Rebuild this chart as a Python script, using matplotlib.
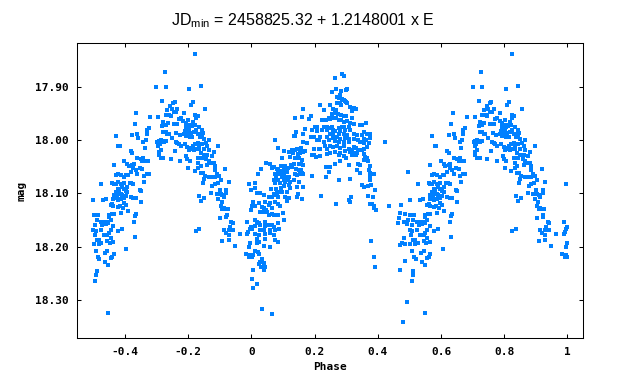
import numpy as np
import matplotlib
matplotlib.use('Agg')
import matplotlib.pyplot as plt

# phase-folded light curve, phase 0..1 (points with phase >= 0.5 are repeated at phase - 1)
# rising branch after primary minimum
rise_pts = [
    (0.162, 17.941), (0.139, 17.959), (0.160, 17.956), (0.188, 17.955), (0.184, 17.961), (0.202, 17.976),
    (0.208, 17.976), (0.170, 17.979), (0.192, 17.980), (0.208, 17.983), (0.142, 17.984), (0.134, 17.992),
    (0.139, 17.992), (0.165, 17.989), (0.189, 17.994), (0.199, 17.994), (0.208, 18.000), (0.213, 18.000),
    (0.177, 18.005), (0.162, 18.003), (0.076, 17.999), (0.086, 18.014), (0.129, 18.018), (0.139, 18.018),
    (0.144, 18.016), (0.150, 18.016), (0.156, 18.014), (0.215, 18.017), (0.197, 18.016), (0.104, 18.020),
    (0.118, 18.022), (0.131, 18.025), (0.148, 18.026), (0.155, 18.025), (0.165, 18.022), (0.171, 18.021),
    (0.192, 18.028), (0.198, 18.028), (0.206, 18.031), (0.097, 18.034), (0.123, 18.031), (0.139, 18.034),
    (0.150, 18.033), (0.160, 18.038), (0.046, 18.043), (0.060, 18.044), (0.071, 18.050), (0.095, 18.049),
    (0.108, 18.049), (0.126, 18.047), (0.134, 18.044), (0.150, 18.045), (0.158, 18.044), (0.162, 18.047),
    (0.032, 18.055), (0.065, 18.053), (0.081, 18.055), (0.086, 18.056), (0.097, 18.058), (0.105, 18.056),
    (0.116, 18.053), (0.129, 18.051), (0.141, 18.054), (0.150, 18.056), (0.156, 18.056), (0.160, 18.061),
    (0.021, 18.064), (0.074, 18.063), (0.084, 18.061), (0.092, 18.064), (0.102, 18.061), (0.113, 18.059),
    (0.137, 18.063), (0.144, 18.066), (0.155, 18.064), (0.162, 18.064), (0.192, 18.068), (0.078, 18.070),
    (0.097, 18.069), (0.108, 18.070), (0.118, 18.069), (0.071, 18.075), (0.086, 18.075), (0.102, 18.074),
    (0.116, 18.075), (0.134, 18.074), (0.013, 18.080), (0.076, 18.081), (0.092, 18.080), (0.108, 18.078),
    (0.123, 18.078), (0.150, 18.078), (0.162, 18.088), (0.000, 18.094), (0.011, 18.089), (0.063, 18.091),
    (0.078, 18.091), (0.095, 18.089), (0.105, 18.086), (0.118, 18.084), (0.123, 18.089), (0.144, 18.088),
    (0.019, 18.099), (0.028, 18.100), (0.039, 18.103), (0.055, 18.106), (0.071, 18.101), (0.081, 18.100),
    (0.092, 18.098), (0.097, 18.097), (0.113, 18.097), (0.147, 18.101), (0.065, 18.106), (0.076, 18.103),
    (0.086, 18.106), (0.108, 18.106), (0.118, 18.108), (0.144, 18.106), (0.160, 18.111), (0.007, 18.116),
    (0.023, 18.118), (0.044, 18.116), (0.060, 18.118), (0.074, 18.116), (0.086, 18.120), (0.092, 18.123),
    (0.055, 18.122), (0.113, 18.115), (0.002, 18.124), (0.013, 18.124), (0.034, 18.125), (0.039, 18.128),
    (0.046, 18.131), (0.065, 18.128), (0.000, 18.131), (0.028, 18.134), (0.039, 18.134), (0.050, 18.134),
    (0.065, 18.138), (0.099, 18.136), (0.055, 18.141), (0.071, 18.141), (0.086, 18.141), (0.011, 18.150),
    (0.018, 18.153), (0.023, 18.155), (0.028, 18.159), (0.042, 18.153), (0.086, 18.156), (0.105, 18.150),
    (0.011, 18.161), (0.044, 18.161), (0.055, 18.159), (0.065, 18.159), (0.071, 18.163), (0.089, 18.166),
    (0.002, 18.166), (0.028, 18.169), (0.039, 18.168), (0.060, 18.168), (0.076, 18.169), (0.013, 18.176),
    (0.023, 18.178), (0.044, 18.177), (0.060, 18.175), (0.071, 18.178), (0.018, 18.186), (0.023, 18.191),
    (0.044, 18.186), (0.076, 18.188), (0.084, 18.191), (0.018, 18.194), (0.039, 18.199), (0.060, 18.201),
    (0.013, 18.209), (0.021, 18.210), (0.025, 18.213), (0.007, 18.216), (0.002, 18.220), (0.034, 18.224),
    (0.028, 18.228), (0.039, 18.230), (0.004, 18.243), (0.023, 18.233), (0.032, 18.238), (0.044, 18.238),
    (0.039, 18.244), (0.002, 18.261), (0.004, 18.278), (0.018, 18.271), (0.033, 18.318), (0.064, 18.327),
]

# first maximum and decline to secondary minimum
max1_pts = [
    (0.264, 17.883), (0.286, 17.875), (0.292, 17.880), (0.269, 17.903), (0.255, 17.909), (0.284, 17.908),
    (0.298, 17.905), (0.303, 17.904), (0.279, 17.916), (0.271, 17.918), (0.276, 17.920), (0.287, 17.922),
    (0.292, 17.925), (0.298, 17.928), (0.303, 17.931), (0.311, 17.938), (0.318, 17.941), (0.324, 17.939),
    (0.330, 17.941), (0.297, 17.926), (0.271, 17.931), (0.279, 17.930), (0.284, 17.934), (0.218, 17.933),
    (0.250, 17.934), (0.260, 17.941), (0.231, 17.944), (0.269, 17.944), (0.318, 17.945), (0.255, 17.950),
    (0.266, 17.949), (0.273, 17.951), (0.284, 17.953), (0.292, 17.955), (0.298, 17.954), (0.260, 17.958),
    (0.269, 17.959), (0.245, 17.958), (0.225, 17.963), (0.237, 17.963), (0.250, 17.961), (0.276, 17.963),
    (0.284, 17.963), (0.292, 17.965), (0.303, 17.964), (0.320, 17.958), (0.324, 17.969), (0.311, 17.968),
    (0.345, 17.971), (0.350, 17.971), (0.364, 17.968), (0.229, 17.975), (0.239, 17.976), (0.248, 17.978),
    (0.255, 17.976), (0.260, 17.980), (0.276, 17.978), (0.287, 17.976), (0.292, 17.975), (0.308, 17.976),
    (0.223, 17.980), (0.241, 17.981), (0.266, 17.983), (0.281, 17.983), (0.297, 17.981), (0.313, 17.981),
    (0.355, 17.984), (0.366, 17.988), (0.250, 17.988), (0.260, 17.989), (0.276, 17.988), (0.292, 17.989),
    (0.303, 17.991), (0.324, 17.988), (0.334, 17.991), (0.350, 17.991), (0.374, 17.989), (0.218, 17.994),
    (0.239, 17.994), (0.258, 17.995), (0.271, 17.994), (0.281, 17.997), (0.297, 17.995), (0.308, 17.997),
    (0.324, 17.997), (0.339, 17.999), (0.355, 17.997), (0.364, 18.000), (0.376, 17.995), (0.229, 18.003),
    (0.245, 18.000), (0.266, 18.001), (0.276, 18.003), (0.292, 18.003), (0.308, 18.003), (0.345, 18.003),
    (0.355, 18.005), (0.371, 18.005), (0.422, 18.004), (0.234, 18.011), (0.250, 18.011), (0.260, 18.013),
    (0.271, 18.010), (0.281, 18.014), (0.292, 18.011), (0.324, 18.013), (0.332, 18.014), (0.218, 18.016),
    (0.239, 18.016), (0.308, 18.016), (0.318, 18.018), (0.339, 18.019), (0.350, 18.019), (0.357, 18.016),
    (0.366, 18.013), (0.250, 18.024), (0.266, 18.022), (0.281, 18.024), (0.297, 18.021), (0.313, 18.022),
    (0.324, 18.024), (0.334, 18.025), (0.355, 18.026), (0.218, 18.030), (0.239, 18.026), (0.276, 18.028),
    (0.292, 18.030), (0.318, 18.028), (0.332, 18.028), (0.360, 18.031), (0.366, 18.034), (0.300, 18.034),
    (0.355, 18.038), (0.368, 18.039), (0.279, 18.039), (0.266, 18.045), (0.308, 18.046), (0.339, 18.045),
    (0.345, 18.047), (0.235, 18.050), (0.248, 18.051), (0.374, 18.049), (0.334, 18.056), (0.345, 18.061),
    (0.371, 18.056), (0.245, 18.059), (0.376, 18.061), (0.387, 18.063), (0.235, 18.070), (0.276, 18.074),
    (0.313, 18.073), (0.376, 18.069), (0.374, 18.075), (0.350, 18.085), (0.357, 18.088), (0.369, 18.086),
    (0.378, 18.084), (0.390, 18.093), (0.221, 18.104), (0.314, 18.106), (0.369, 18.104), (0.384, 18.106),
    (0.308, 18.113), (0.312, 18.116), (0.267, 18.119), (0.374, 18.119), (0.382, 18.120), (0.387, 18.124),
    (0.389, 18.128), (0.394, 18.132), (0.437, 18.123), (0.380, 18.190), (0.387, 18.219), (0.390, 18.238),
]

# secondary minimum and rise
min2_pts = [
    (0.637, 17.948), (0.681, 17.956), (0.632, 17.969), (0.677, 17.977), (0.669, 17.980), (0.640, 17.988),
    (0.670, 17.988), (0.624, 17.991), (0.643, 17.995), (0.667, 17.999), (0.659, 18.003), (0.573, 17.993),
    (0.580, 18.010), (0.584, 18.010), (0.664, 18.014), (0.619, 18.021), (0.624, 18.025), (0.640, 18.034),
    (0.650, 18.036), (0.656, 18.039), (0.659, 18.034), (0.664, 18.040), (0.674, 18.040), (0.599, 18.039),
    (0.608, 18.044), (0.613, 18.049), (0.624, 18.047), (0.629, 18.045), (0.627, 18.053), (0.619, 18.059),
    (0.635, 18.056), (0.647, 18.053), (0.656, 18.055), (0.566, 18.047), (0.497, 18.059), (0.610, 18.066),
    (0.598, 18.069), (0.605, 18.066), (0.577, 18.064), (0.571, 18.065), (0.587, 18.066), (0.640, 18.064),
    (0.671, 18.063), (0.677, 18.064), (0.661, 18.067), (0.526, 18.083), (0.561, 18.080), (0.566, 18.083),
    (0.571, 18.083), (0.579, 18.078), (0.587, 18.083), (0.598, 18.081), (0.608, 18.088), (0.617, 18.081),
    (0.621, 18.080), (0.627, 18.083), (0.662, 18.078), (0.592, 18.088), (0.598, 18.092), (0.603, 18.095),
    (0.608, 18.097), (0.577, 18.091), (0.582, 18.094), (0.571, 18.098), (0.579, 18.101), (0.587, 18.101),
    (0.592, 18.103), (0.603, 18.105), (0.619, 18.106), (0.627, 18.108), (0.635, 18.109), (0.647, 18.093),
    (0.650, 18.095), (0.566, 18.103), (0.564, 18.111), (0.574, 18.109), (0.579, 18.113), (0.587, 18.111),
    (0.598, 18.109), (0.532, 18.113), (0.542, 18.111), (0.501, 18.113), (0.652, 18.116), (0.598, 18.118),
    (0.603, 18.122), (0.585, 18.123), (0.555, 18.122), (0.561, 18.119), (0.564, 18.124), (0.475, 18.121),
    (0.577, 18.125), (0.594, 18.128), (0.610, 18.133), (0.566, 18.138), (0.587, 18.136), (0.558, 18.139),
    (0.550, 18.141), (0.635, 18.138), (0.631, 18.143), (0.469, 18.136), (0.485, 18.138), (0.503, 18.141),
    (0.516, 18.141), (0.466, 18.147), (0.497, 18.150), (0.513, 18.150), (0.524, 18.153), (0.492, 18.153),
    (0.482, 18.153), (0.550, 18.145), (0.555, 18.150), (0.545, 18.153), (0.536, 18.153), (0.463, 18.156),
    (0.491, 18.158), (0.507, 18.159), (0.529, 18.159), (0.540, 18.157), (0.548, 18.156), (0.629, 18.154),
    (0.564, 18.161), (0.592, 18.166), (0.555, 18.168), (0.524, 18.169), (0.509, 18.170), (0.501, 18.169),
    (0.550, 18.174), (0.577, 18.171), (0.545, 18.178), (0.534, 18.178), (0.506, 18.179), (0.633, 18.181),
    (0.555, 18.184), (0.519, 18.188), (0.482, 18.183), (0.545, 18.189), (0.526, 18.193), (0.513, 18.188),
    (0.553, 18.193), (0.564, 18.192), (0.476, 18.194), (0.471, 18.197), (0.487, 18.195), (0.503, 18.195),
    (0.519, 18.195), (0.605, 18.205), (0.508, 18.209), (0.545, 18.209), (0.536, 18.211), (0.566, 18.214),
    (0.561, 18.219), (0.555, 18.222), (0.515, 18.219), (0.520, 18.224), (0.539, 18.228), (0.485, 18.226),
    (0.548, 18.235), (0.469, 18.243), (0.513, 18.246), (0.510, 18.254), (0.507, 18.265), (0.491, 18.304),
    (0.548, 18.325), (0.479, 18.342),
]

# second maximum and decline to primary minimum
max2_pts = [
    (0.823, 17.839), (0.728, 17.871), (0.700, 17.901), (0.731, 17.901), (0.804, 17.903), (0.842, 17.899),
    (0.719, 17.926), (0.759, 17.929), (0.754, 17.931), (0.744, 17.935), (0.808, 17.933), (0.816, 17.928),
    (0.750, 17.941), (0.735, 17.944), (0.766, 17.941), (0.761, 17.947), (0.756, 17.947), (0.855, 17.941),
    (0.788, 17.948), (0.729, 17.952), (0.741, 17.952), (0.747, 17.954), (0.823, 17.952), (0.830, 17.954),
    (0.706, 17.956), (0.772, 17.961), (0.777, 17.958), (0.785, 17.964), (0.794, 17.967), (0.801, 17.963),
    (0.817, 17.966), (0.825, 17.959), (0.722, 17.965), (0.737, 17.967), (0.730, 17.971), (0.756, 17.969),
    (0.766, 17.969), (0.806, 17.971), (0.812, 17.974), (0.821, 17.972), (0.794, 17.975), (0.798, 17.978),
    (0.804, 17.976), (0.834, 17.975), (0.719, 17.974), (0.789, 17.983), (0.802, 17.980), (0.824, 17.980),
    (0.845, 17.981), (0.722, 17.984), (0.729, 17.984), (0.735, 17.988), (0.740, 17.988), (0.763, 17.986),
    (0.787, 17.988), (0.798, 17.988), (0.808, 17.986), (0.819, 17.984), (0.840, 17.988), (0.848, 17.986),
    (0.750, 17.995), (0.775, 17.991), (0.793, 17.992), (0.806, 17.994), (0.814, 17.994), (0.830, 17.989),
    (0.837, 17.994), (0.843, 17.991), (0.851, 17.998), (0.867, 17.999), (0.703, 18.004), (0.708, 18.002),
    (0.714, 18.000), (0.719, 18.002), (0.724, 18.003), (0.729, 18.001), (0.711, 18.008), (0.761, 18.004),
    (0.766, 18.006), (0.772, 18.008), (0.777, 18.010), (0.789, 18.008), (0.798, 18.013), (0.808, 18.014),
    (0.815, 18.011), (0.821, 18.008), (0.830, 18.006), (0.835, 18.009), (0.845, 18.008), (0.856, 18.006),
    (0.861, 18.011), (0.896, 18.010), (0.706, 18.011), (0.803, 18.019), (0.814, 18.016), (0.819, 18.019),
    (0.824, 18.016), (0.835, 18.016), (0.851, 18.016), (0.866, 18.019), (0.882, 18.022), (0.714, 18.019),
    (0.708, 18.022), (0.759, 18.021), (0.840, 18.025), (0.707, 18.027), (0.795, 18.029), (0.851, 18.028),
    (0.861, 18.028), (0.875, 18.030), (0.714, 18.033), (0.722, 18.033), (0.747, 18.036), (0.776, 18.040),
    (0.798, 18.036), (0.806, 18.039), (0.830, 18.033), (0.843, 18.034), (0.858, 18.036), (0.866, 18.039),
    (0.874, 18.043), (0.882, 18.042), (0.833, 18.043), (0.840, 18.049), (0.861, 18.047), (0.885, 18.049),
    (0.801, 18.053), (0.821, 18.057), (0.833, 18.053), (0.886, 18.056), (0.918, 18.055), (0.840, 18.061),
    (0.848, 18.061), (0.853, 18.068), (0.866, 18.070), (0.874, 18.070), (0.884, 18.069), (0.891, 18.064),
    (0.898, 18.067), (0.851, 18.072), (0.905, 18.074), (0.848, 18.081), (0.877, 18.086), (0.885, 18.083),
    (0.895, 18.080), (0.928, 18.079), (0.994, 18.083), (0.900, 18.093), (0.921, 18.093), (0.836, 18.104),
    (0.874, 18.100), (0.891, 18.102), (0.903, 18.101), (0.909, 18.103), (0.914, 18.106), (0.921, 18.100),
    (0.852, 18.109), (0.896, 18.111), (0.842, 18.115), (0.907, 18.117), (0.903, 18.124), (0.914, 18.127),
    (0.909, 18.130), (0.921, 18.130), (0.926, 18.130), (0.924, 18.141), (0.902, 18.147), (0.921, 18.145),
    (0.937, 18.153), (0.941, 18.156), (0.988, 18.153), (0.932, 18.163), (0.930, 18.168), (0.943, 18.168),
    (0.914, 18.168), (0.999, 18.163), (0.995, 18.167), (0.826, 18.171), (0.836, 18.166), (0.920, 18.175),
    (0.928, 18.178), (0.963, 18.177), (0.991, 18.172), (0.988, 18.177), (0.909, 18.190), (0.928, 18.188),
    (0.997, 18.194), (0.947, 18.199), (0.994, 18.201), (0.984, 18.213), (0.994, 18.216), (0.997, 18.219),
    (0.993, 18.220),
]

x_ticks = [-0.4, -0.2, 0, 0.2, 0.4, 0.6, 0.8, 1]
x_labels = ['-0.4', '-0.2', '0', '0.2', '0.4', '0.6', '0.8', '1']
y_ticks = [17.90, 18.00, 18.10, 18.20, 18.30]
y_labels = ['17.90', '18.00', '18.10', '18.20', '18.30']

plt.rcParams['mathtext.default'] = 'regular'

pts = np.array(rise_pts + max1_pts + min2_pts + max2_pts)
phase, mag = pts[:, 0], pts[:, 1]
# repeat the second half of the cycle on the left
back = phase >= 0.5
phase_all = np.concatenate([phase, phase[back] - 1])
mag_all = np.concatenate([mag, mag[back]])

fig = plt.figure(figsize=(6.33, 3.89), dpi=100)
ax = fig.add_axes([0.1222, 0.1305, 0.7993, 0.7582])
ax.scatter(phase_all, mag_all, marker='s', s=5, color='#0080ff', linewidths=0)

ax.set_xlim(-0.55, 1.05)
ax.set_ylim(18.372, 17.818)

mono = dict(family='DejaVu Sans Mono', weight='bold', size=8)
ax.set_xticks(x_ticks)
ax.set_xticklabels(x_labels, fontdict=mono)
ax.set_yticks(y_ticks)
ax.set_yticklabels(y_labels, fontdict=mono)
ax.tick_params(direction='in', length=2.6, width=0.75, top=True, right=True, pad=6)
for sp in ax.spines.values():
    sp.set_linewidth(0.75)

ax.set_xlabel('Phase', fontdict=mono, labelpad=4)
ax.set_ylabel('mag', fontdict=mono, labelpad=6)

fig.text(303 / 633, 1 - 25 / 389, r'JD$_{min}$ = 2458825.32 + 1.2148001 x E',
         ha='center', va='baseline', family='Liberation Sans', size=11.5)

fig.savefig('out.png', dpi=100)
